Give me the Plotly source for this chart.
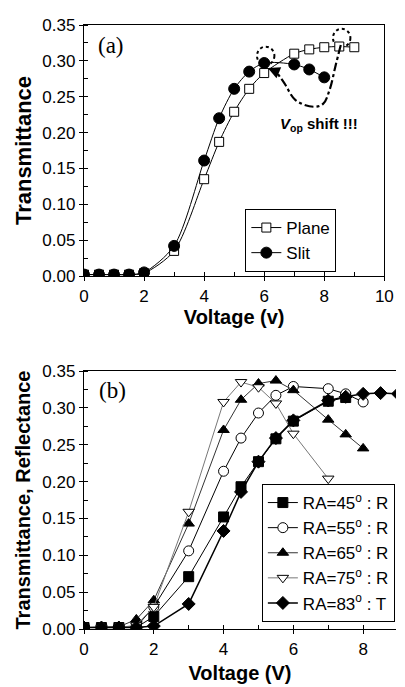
import plotly.graph_objects as go

# ---------------- Panel (a) data ----------------
plane_v = [0, 0.5, 1, 1.5, 2, 3, 4, 4.5, 5, 5.5, 6, 7, 7.5, 8, 8.5, 9]
plane_t = [0.002, 0.002, 0.002, 0.002, 0.004, 0.035, 0.135, 0.187, 0.229, 0.261,
           0.283, 0.310, 0.316, 0.319, 0.320, 0.319]
slit_v = [0, 0.5, 1, 1.5, 2, 3, 4, 4.5, 5, 5.5, 6, 7, 7.5, 8]
slit_t = [0.002, 0.002, 0.002, 0.002, 0.005, 0.042, 0.161, 0.220, 0.261, 0.285,
          0.297, 0.295, 0.288, 0.277]

# V_op shift annotation guide (dash-dot path, arrow, dotted circles)
vop_path_v = [8.55, 8.38, 8.18, 7.96, 7.64, 7.05, 6.67, 6.4]
vop_path_t = [0.322, 0.294, 0.26, 0.24, 0.236, 0.245, 0.269, 0.285]
circle_centers_v = [6.05, 8.58]
circle_centers_t = [0.307, 0.332]

# ---------------- Panel (b) data ----------------
v_b = [0, 0.5, 1, 1.5, 2, 3, 4, 4.5, 5, 5.5, 6, 7, 7.5, 8, 8.5, 9]
ra45 = [0.002, 0.002, 0.002, 0.002, 0.017, 0.071, 0.152, 0.193, 0.227, 0.258, 0.282,
        0.309, 0.314]
ra55 = [0.002, 0.002, 0.002, 0.003, 0.030, 0.106, 0.214, 0.259, 0.293, 0.317, 0.329,
        0.326, 0.319, 0.308]
ra65 = [0.002, 0.002, 0.003, 0.013, 0.039, 0.143, 0.270, 0.311, 0.333, 0.337, 0.324,
        0.284, 0.264, 0.245]
ra75 = [0.002, 0.002, 0.002, 0.005, 0.030, 0.159, 0.308, 0.335, 0.328, 0.306, 0.265,
        0.204]
ra83 = [0.002, 0.002, 0.002, 0.002, 0.004, 0.034, 0.133, 0.186, 0.227, 0.259, 0.283,
        0.310, 0.315, 0.319, 0.320, 0.319]

names_b = ["RA=45<sup style='font-size:11px'>o</sup> : R",
           "RA=55<sup style='font-size:11px'>o</sup> : R",
           "RA=65<sup style='font-size:11px'>o</sup> : R",
           "RA=75<sup style='font-size:11px'>o</sup> : R",
           "RA=83<sup style='font-size:11px'>o</sup> : T"]

SANS = "Liberation Sans, Arial, sans-serif"
SERIF = "Liberation Serif, Times New Roman, serif"

fig = go.Figure()

# Panel (a)
fig.add_trace(go.Scatter(
    x=plane_v, y=plane_t, name="Plane", mode="lines+markers",
    line=dict(color="black", width=1, shape="spline", smoothing=0.8),
    marker=dict(symbol="square", size=9, color="white", line=dict(color="black", width=1)),
    xaxis="x", yaxis="y", legend="legend"))
fig.add_trace(go.Scatter(
    x=slit_v, y=slit_t, name="Slit", mode="lines+markers",
    line=dict(color="black", width=1, shape="spline", smoothing=0.8),
    marker=dict(symbol="circle", size=11, color="black", line=dict(color="black", width=1)),
    xaxis="x", yaxis="y", legend="legend"))
fig.add_trace(go.Scatter(
    x=vop_path_v, y=vop_path_t, mode="lines", showlegend=False, hoverinfo="skip",
    line=dict(color="black", width=2.2, dash="dashdot", shape="spline"),
    xaxis="x", yaxis="y"))

# Panel (b)
styles_b = [
    dict(symbol="square", color="black", lc="black", lw=1),
    dict(symbol="circle", color="white", lc="black", lw=1),
    dict(symbol="triangle-up", color="black", lc="#333333", lw=1),
    dict(symbol="triangle-down", color="white", lc="#777777", lw=1),
    dict(symbol="diamond", color="black", lc="black", lw=1.5),
]
series_b = [ra45, ra55, ra65, ra75, ra83]
for name, ys, st in zip(names_b, series_b, styles_b):
    fig.add_trace(go.Scatter(
        x=v_b[:len(ys)], y=ys, name=name, mode="lines+markers",
        line=dict(color=st["lc"], width=st["lw"]),
        marker=dict(symbol=st["symbol"], size=10, color=st["color"],
                    line=dict(color="black", width=1)),
        xaxis="x2", yaxis="y2", legend="legend2"))

# Layout geometry (pixels)
W, H = 405, 687
ML, MR, MT, MB = 84, 0, 25, 58
pw = W - ML - MR
ph = H - MT - MB
a_right = 393
a_bottom, b_top, b_bottom = 276, 371, 629

tick_font = dict(family=SANS, size=17, color="black")
title_font = dict(family=SANS, size=20, color="black")
title_font_a = dict(family=SANS, size=22, color="black")

common = dict(showline=True, linecolor="black", linewidth=1.3, ticks="outside",
              ticklen=4, tickwidth=1, tickcolor="black", showgrid=False, zeroline=False,
              tickfont=tick_font)

fig.update_layout(
    width=W, height=H,
    margin=dict(l=ML, r=MR, t=MT, b=MB),
    paper_bgcolor="white", plot_bgcolor="white",
    xaxis=dict(domain=[0, (a_right - ML) / pw], range=[0, 10], dtick=2, anchor="y",
               mirror=True, minor=dict(dtick=1, ticks="inside", ticklen=4, tickcolor="black"),
               title=dict(text="<b>Voltage (v)</b>", font=title_font, standoff=4), **common),
    yaxis=dict(domain=[(b_bottom - a_bottom) / ph, 1], range=[0, 0.35], dtick=0.05,
               tickformat=".2f", anchor="x", mirror=True,
               minor=dict(dtick=0.025, ticks="inside", ticklen=4, tickcolor="black"),
               title=dict(text="<b>Transmittance</b>", font=title_font_a, standoff=4), **common),
    xaxis2=dict(domain=[0, 1], range=[0, (W - ML) / 35.9], dtick=2, anchor="y2",
                mirror=True, minor=dict(dtick=1, ticks="inside", ticklen=4, tickcolor="black"),
                title=dict(text="<b>Voltage (V)</b>", font=title_font, standoff=8), **common),
    yaxis2=dict(domain=[0, (b_bottom - b_top) / ph], range=[0, 0.35], dtick=0.05,
                tickformat=".2f", anchor="x2", mirror=False,
                minor=dict(dtick=0.025, ticks="inside", ticklen=4, tickcolor="black"),
                title=dict(text="<b>Transmittance, Reflectance</b>", font=title_font, standoff=6),
                **common),
    legend=dict(x=(250 - ML) / pw, y=(b_bottom - 209) / ph, xanchor="left", yanchor="top",
                bordercolor="black", borderwidth=1, bgcolor="white",
                font=dict(family=SANS, size=17, color="black")),
    legend2=dict(x=(267 - ML) / pw, y=(b_bottom - 484) / ph, xanchor="left", yanchor="top",
                 bordercolor="black", borderwidth=1, bgcolor="white",
                 font=dict(family=SANS, size=17, color="black")),
)

# Dotted circles
for cx, cy in zip(circle_centers_v, circle_centers_t):
    fig.add_shape(type="circle", xref="x", yref="y",
                  x0=cx - 0.29, x1=cx + 0.29, y0=cy - 0.0128, y1=cy + 0.0128,
                  line=dict(color="black", width=2, dash="dot"), layer="below")

# Arrowhead at end of V_op path
fig.add_annotation(x=6.12, y=0.290, ax=vop_path_v[-1], ay=vop_path_t[-1],
                   xref="x", yref="y", axref="x", ayref="y", showarrow=True,
                   arrowhead=2, arrowsize=1.2, arrowwidth=2, arrowcolor="black", text="")

fig.add_annotation(x=7.83, y=0.211, xref="x", yref="y", showarrow=False,
                   text="<b><i>V</i><sub>op</sub> shift !!!</b>",
                   font=dict(family=SANS, size=15, color="black"))
fig.add_annotation(x=0.9, y=0.322, xref="x", yref="y", showarrow=False, text="(a)",
                   font=dict(family=SERIF, size=23, color="black"))
fig.add_annotation(x=0.82, y=0.324, xref="x2", yref="y2", showarrow=False, text="(b)",
                   font=dict(family=SERIF, size=23, color="black"))

fig.write_html("out.html")
